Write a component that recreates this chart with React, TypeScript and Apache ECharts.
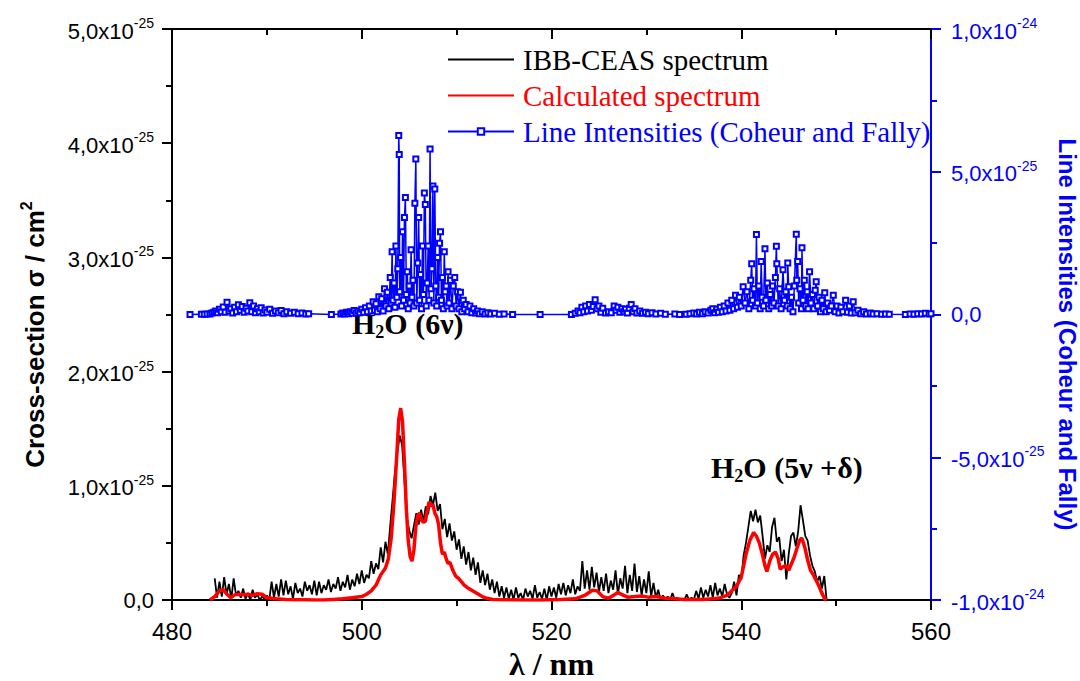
import React, { useEffect, useRef } from "react";
import * as echarts from "echarts";

// Units: left axis values in 1e-26 cm^2 (0..50 => 0..5.0x10^-25)
// Right axis values in 1e-25 (-10..10 => -1.0x10^-24..1.0x10^-24)

const seriesNames = ["IBB-CEAS spectrum", "Calculated spectrum", "Line Intensities (Coheur and Fally)"];
const xTickLabels = [480, 500, 520, 540, 560];
const leftTickLabels = ["0,0", "1,0x10|-25", "2,0x10|-25", "3,0x10|-25", "4,0x10|-25", "5,0x10|-25"];
const rightTickLabels = ["-1,0x10|-24", "-5,0x10|-25", "0,0", "5,0x10|-25", "1,0x10|-24"];

const ibbSpectrum: number[][] = [
  [484.5, 1.9], [484.75, 0.2], [485.0, 1.6], [485.25, 0.3], [485.5, 2.0], [485.75, 0.5], [486.0, 1.4], [486.25, 0.1],
  [486.5, 1.9], [486.75, 0.4], [487.0, 0.8], [487.25, 0.2], [487.5, 1.0], [487.75, 0.1], [488.0, 0.6], [488.25, 0.0],
  [488.5, 0.9], [488.75, 0.2], [489.0, 0.5], [489.25, 0.0], [489.5, 0.3], [489.75, 0.1], [490.0, 0.4], [490.25, 0.0],
  [490.5, 1.6], [490.75, 0.2], [491.0, 1.4], [491.25, 0.3], [491.5, 1.8], [491.75, 0.4], [492.0, 1.7], [492.25, 0.5],
  [492.5, 1.2], [492.75, 0.1], [493.0, 1.5], [493.25, 0.6], [493.5, 1.0], [493.75, 0.3], [494.0, 1.6], [494.25, 0.8],
  [494.5, 1.3], [494.75, 0.5], [495.0, 1.7], [495.25, 0.4], [495.5, 1.6], [495.75, 0.6], [496.0, 1.3], [496.25, 0.9],
  [496.5, 1.8], [496.75, 0.7], [497.0, 1.4], [497.25, 1.0], [497.5, 2.0], [497.75, 0.8], [498.0, 1.6], [498.25, 1.1],
  [498.5, 2.2], [498.75, 0.9], [499.0, 1.8], [499.25, 1.2], [499.5, 2.3], [499.75, 1.4], [500.0, 2.6], [500.25, 1.5],
  [500.5, 2.2], [500.75, 1.9], [501.0, 3.4], [501.25, 2.3], [501.5, 3.2], [501.75, 2.7], [502.0, 4.6], [502.25, 3.3],
  [502.5, 5.1], [502.75, 4.0], [503.0, 6.5], [503.25, 8.8], [503.5, 11.2], [503.75, 12.9], [504.0, 14.4], [504.25, 13.6],
  [504.5, 10.5], [504.75, 7.2], [505.0, 6.1], [505.25, 5.4], [505.5, 6.5], [505.75, 7.6], [506.0, 6.6], [506.25, 7.9],
  [506.5, 6.9], [506.75, 8.2], [507.0, 7.5], [507.25, 9.1], [507.5, 8.3], [507.75, 9.4], [508.0, 7.8], [508.25, 8.4],
  [508.5, 6.2], [508.75, 7.1], [509.0, 5.5], [509.25, 6.7], [509.5, 5.2], [509.75, 6.0], [510.0, 4.4], [510.25, 5.3],
  [510.5, 3.6], [510.75, 4.7], [511.0, 3.1], [511.25, 4.2], [511.5, 2.6], [511.75, 3.7], [512.0, 2.2], [512.25, 3.3],
  [512.5, 1.5], [512.75, 2.6], [513.0, 1.3], [513.25, 2.3], [513.5, 0.9], [513.75, 1.8], [514.0, 0.6], [514.25, 1.6],
  [514.5, 0.3], [514.75, 1.2], [515.0, 0.2], [515.25, 1.1], [515.5, 0.1], [515.75, 0.9], [516.0, 0.0], [516.25, 1.1],
  [516.5, 0.2], [516.75, 0.6], [517.0, 0.0], [517.25, 1.0], [517.5, 0.3], [517.75, 0.8], [518.0, 0.1], [518.25, 1.3],
  [518.5, 0.2], [518.75, 0.7], [519.0, 0.1], [519.25, 1.0], [519.5, 0.0], [519.75, 1.2], [520.0, 0.3], [520.25, 1.1],
  [520.5, 0.2], [520.75, 1.4], [521.0, 0.5], [521.25, 1.5], [521.5, 0.4], [521.75, 1.3], [522.0, 0.6], [522.25, 1.8],
  [522.5, 0.5], [522.75, 1.2], [523.0, 0.8], [523.25, 3.4], [523.5, 1.0], [523.75, 2.6], [524.0, 0.9], [524.25, 2.9],
  [524.5, 1.1], [524.75, 2.4], [525.0, 0.7], [525.25, 2.0], [525.5, 0.8], [525.75, 2.3], [526.0, 0.6], [526.25, 1.7],
  [526.5, 0.9], [526.75, 2.6], [527.0, 0.5], [527.25, 1.9], [527.5, 1.0], [527.75, 3.0], [528.0, 0.6], [528.25, 2.2],
  [528.5, 0.8], [528.75, 3.2], [529.0, 0.7], [529.25, 2.1], [529.5, 0.4], [529.75, 1.8], [530.0, 0.6], [530.25, 2.5],
  [530.5, 0.3], [530.75, 1.5], [531.0, 0.2], [531.25, 0.9], [531.5, 0.0], [531.75, 0.4], [532.0, 0.0], [532.25, 0.3],
  [532.5, 0.0], [532.75, 0.6], [533.0, 0.0], [533.25, 0.2], [533.5, 0.0], [533.75, 0.1], [534.0, 0.0], [534.25, 0.5],
  [534.5, 0.0], [534.75, 0.2], [535.0, 0.0], [535.25, 0.8], [535.5, 0.1], [535.75, 1.1], [536.0, 0.2], [536.25, 0.9],
  [536.5, 0.3], [536.75, 1.3], [537.0, 0.2], [537.25, 1.5], [537.5, 0.4], [537.75, 1.0], [538.0, 0.3], [538.25, 1.4],
  [538.5, 0.5], [538.75, 0.2], [539.0, 0.6], [539.25, 1.6], [539.5, 0.4], [539.75, 2.2], [540.0, 1.8], [540.25, 3.9],
  [540.5, 5.0], [540.75, 6.4], [541.0, 7.8], [541.25, 6.9], [541.5, 7.9], [541.75, 6.8], [542.0, 7.4], [542.25, 5.6],
  [542.5, 3.6], [542.75, 4.8], [543.0, 4.2], [543.25, 6.4], [543.5, 7.2], [543.75, 5.1], [544.0, 5.5], [544.25, 3.4],
  [544.5, 4.4], [544.75, 1.8], [545.0, 4.0], [545.25, 5.6], [545.5, 5.9], [545.75, 4.7], [546.0, 6.0], [546.25, 8.3],
  [546.5, 7.0], [546.75, 5.6], [547.0, 5.2], [547.25, 3.9], [547.5, 3.0], [547.75, 2.5], [548.0, 1.6], [548.25, 2.1],
  [548.5, 1.0], [548.75, 2.1], [549.0, 0.0],
];

const calculatedSpectrum: number[][] = [
  [484.0, 0], [484.5, 0.3], [485.0, 0.8], [485.4, 0.9], [485.8, 0.5], [486.2, 0.2], [486.6, 0.45], [487.0, 0.5],
  [487.5, 0.45], [488.0, 0.5], [488.5, 0.4], [489.0, 0.55], [489.5, 0.5], [490.0, 0.2], [491.0, 0.1], [492.0, 0.05],
  [493.0, 0.02], [494.0, 0.02], [495.0, 0.0], [496.0, 0.0], [497.0, 0.05], [498.0, 0.1], [499.0, 0.2], [500.0, 0.3],
  [500.5, 0.5], [501.0, 0.8], [501.5, 1.3], [502.0, 2.2], [502.5, 2.8], [502.8, 3.6], [503.1, 5.4], [503.4, 8.6],
  [503.7, 12.8], [503.9, 15.8], [504.1, 16.8], [504.3, 15.6], [504.5, 12.0], [504.7, 8.0], [504.9, 5.2], [505.1, 3.8],
  [505.3, 3.4], [505.5, 4.4], [505.7, 6.4], [505.9, 7.4], [506.1, 7.6], [506.3, 7.0], [506.5, 6.8], [506.7, 6.9],
  [506.9, 7.8], [507.1, 8.6], [507.3, 8.2], [507.5, 8.4], [507.7, 7.6], [507.9, 7.3], [508.1, 6.6], [508.3, 5.0],
  [508.5, 4.0], [508.7, 4.2], [508.9, 3.6], [509.1, 3.2], [509.3, 3.3], [509.6, 2.6], [509.9, 2.1], [510.2, 1.9],
  [510.5, 1.6], [510.8, 1.3], [511.1, 1.1], [511.5, 0.9], [511.9, 0.7], [512.3, 0.5], [512.7, 0.3], [513.2, 0.15],
  [513.8, 0.05], [515.0, 0.02], [517.0, 0.0], [519.0, 0.0], [521.0, 0.05], [522.5, 0.1], [523.5, 0.4], [524.3, 0.85],
  [524.8, 0.8], [525.4, 0.3], [526.0, 0.15], [526.5, 0.4], [527.0, 0.65], [527.5, 0.45], [528.0, 0.25], [528.8, 0.3],
  [529.5, 0.35], [530.2, 0.25], [531.0, 0.3], [532.0, 0.15], [533.0, 0.1], [534.0, 0.05], [535.0, 0.05], [536.0, 0.05],
  [537.0, 0.1], [537.8, 0.2], [538.5, 0.4], [539.0, 0.8], [539.5, 1.2], [540.0, 2.0], [540.5, 4.0], [540.9, 5.2],
  [541.3, 5.9], [541.6, 5.6], [541.9, 5.0], [542.2, 4.1], [542.5, 3.0], [542.7, 2.5], [543.0, 3.4], [543.3, 4.0],
  [543.6, 4.2], [543.9, 3.6], [544.1, 2.7], [544.4, 2.9], [544.7, 3.0], [545.0, 2.6], [545.3, 3.2], [545.6, 3.8],
  [545.9, 4.6], [546.2, 5.3], [546.4, 5.4], [546.7, 4.6], [547.0, 3.5], [547.3, 2.6], [547.6, 2.2], [547.9, 1.7],
  [548.2, 1.2], [548.5, 0.6], [548.8, 0.1], [549.0, 0.0],
];

const lineIntensities: number[][] = [
  [481.9, 0.0], [483.1, 0.01], [483.4, 0.01], [483.7, 0.02], [484.0, 0.02], [484.2, 0.05], [484.4, 0.08], [484.6, 0.12],
  [484.8, 0.06], [485.0, 0.18], [485.2, 0.1], [485.4, 0.26], [485.6, 0.08], [485.8, 0.43], [486.0, 0.12], [486.2, 0.2],
  [486.4, 0.05], [486.6, 0.25], [486.8, 0.1], [487.0, 0.34], [487.2, 0.15], [487.4, 0.28], [487.6, 0.08], [487.8, 0.22],
  [488.0, 0.12], [488.2, 0.41], [488.4, 0.1], [488.6, 0.3], [488.8, 0.06], [489.0, 0.2], [489.2, 0.1], [489.4, 0.24],
  [489.6, 0.05], [489.8, 0.16], [490.0, 0.08], [490.3, 0.18], [490.6, 0.04], [490.9, 0.12], [491.2, 0.06], [491.5, 0.14],
  [491.8, 0.03], [492.1, 0.1], [492.5, 0.04], [492.9, 0.08], [493.3, 0.03], [493.7, 0.05], [494.1, 0.02], [494.4, 0.03],
  [496.8, 0.0], [497.8, 0.02], [498.0, 0.05], [498.2, 0.02], [498.4, 0.08], [498.6, 0.03], [498.8, 0.1], [499.0, 0.04],
  [499.2, 0.14], [499.4, 0.05], [499.6, 0.12], [499.8, 0.06], [500.0, 0.18], [500.2, 0.08], [500.4, 0.24], [500.6, 0.1],
  [500.8, 0.3], [501.0, 0.12], [501.2, 0.45], [501.35, 0.15], [501.5, 0.38], [501.65, 0.1], [501.8, 0.62], [501.95, 0.2],
  [502.1, 0.55], [502.25, 0.12], [502.4, 0.9], [502.55, 0.3], [502.7, 0.78], [502.85, 0.2], [503.0, 1.3], [503.1, 0.4],
  [503.2, 2.2], [503.3, 0.5], [503.4, 1.1], [503.5, 0.25], [503.6, 2.4], [503.7, 0.6], [503.8, 1.6], [503.9, 6.27],
  [503.95, 5.6], [504.0, 0.8], [504.1, 2.0], [504.2, 0.3], [504.3, 2.9], [504.4, 0.5], [504.5, 3.4], [504.6, 4.1],
  [504.7, 0.7], [504.8, 1.5], [504.9, 0.2], [505.0, 1.0], [505.1, 0.4], [505.2, 2.27], [505.3, 0.6], [505.4, 1.2],
  [505.5, 0.3], [505.6, 3.9], [505.7, 5.45], [505.8, 0.4], [505.9, 1.8], [506.0, 3.4], [506.1, 0.5], [506.2, 1.4],
  [506.3, 0.2], [506.4, 2.4], [506.5, 0.7], [506.6, 4.26], [506.7, 3.85], [506.8, 0.3], [506.9, 1.1], [507.0, 2.4],
  [507.1, 0.5], [507.2, 5.8], [507.3, 0.9], [507.4, 1.6], [507.5, 4.5], [507.6, 0.4], [507.7, 4.4], [507.8, 1.0],
  [507.9, 0.3], [508.0, 2.0], [508.1, 0.6], [508.2, 2.5], [508.3, 2.9], [508.4, 0.5], [508.5, 1.3], [508.6, 0.2],
  [508.7, 2.2], [508.8, 0.8], [508.9, 1.0], [509.0, 0.3], [509.1, 1.5], [509.2, 0.4], [509.35, 1.2], [509.5, 0.2],
  [509.65, 1.0], [509.8, 1.3], [509.95, 0.3], [510.1, 0.8], [510.25, 0.2], [510.4, 0.78], [510.55, 0.1], [510.7, 0.5],
  [510.85, 0.2], [511.0, 0.35], [511.2, 0.1], [511.4, 0.3], [511.6, 0.06], [511.8, 0.2], [512.0, 0.05], [512.2, 0.12],
  [512.4, 0.03], [512.7, 0.1], [513.0, 0.02], [513.3, 0.06], [513.6, 0.02], [514.0, 0.04], [514.5, 0.01], [515.0, 0.02],
  [515.9, 0.0], [518.8, 0.0], [522.1, 0.0], [522.5, 0.04], [522.8, 0.12], [523.0, 0.06], [523.2, 0.25], [523.4, 0.1],
  [523.6, 0.3], [523.8, 0.12], [524.0, 0.35], [524.2, 0.15], [524.4, 0.28], [524.6, 0.52], [524.8, 0.2], [525.0, 0.3],
  [525.2, 0.08], [525.4, 0.22], [525.7, 0.05], [526.0, 0.1], [526.3, 0.06], [526.6, 0.3], [526.8, 0.15], [527.0, 0.25],
  [527.2, 0.08], [527.4, 0.2], [527.6, 0.1], [527.8, 0.18], [528.0, 0.05], [528.2, 0.22], [528.4, 0.35], [528.6, 0.1],
  [528.8, 0.2], [529.0, 0.05], [529.3, 0.12], [529.6, 0.04], [529.9, 0.08], [530.2, 0.03], [530.6, 0.06], [531.0, 0.02],
  [531.5, 0.04], [532.0, 0.01], [533.0, 0.02], [533.5, 0.0], [534.2, 0.01], [534.6, 0.03], [535.0, 0.05], [535.3, 0.02],
  [535.6, 0.08], [535.9, 0.03], [536.2, 0.1], [536.5, 0.05], [536.8, 0.15], [537.0, 0.2], [537.2, 0.06], [537.4, 0.18],
  [537.6, 0.08], [537.8, 0.25], [538.0, 0.1], [538.2, 0.3], [538.4, 0.12], [538.6, 0.4], [538.8, 0.15], [539.0, 0.5],
  [539.2, 0.2], [539.4, 0.67], [539.6, 0.25], [539.8, 0.6], [540.0, 0.3], [540.2, 0.97], [540.4, 0.4], [540.6, 0.8],
  [540.8, 0.2], [541.0, 1.2], [541.1, 1.78], [541.2, 0.5], [541.35, 0.9], [541.5, 0.3], [541.6, 2.8], [541.7, 0.4],
  [541.85, 1.0], [542.0, 0.2], [542.1, 1.86], [542.2, 0.6], [542.35, 0.3], [542.5, 2.3], [542.6, 0.5], [542.75, 1.1],
  [542.9, 0.2], [543.05, 0.7], [543.2, 0.3], [543.3, 1.0], [543.45, 0.4], [543.6, 1.3], [543.7, 2.39], [543.75, 1.78],
  [543.9, 0.3], [544.05, 0.9], [544.2, 0.2], [544.4, 1.57], [544.55, 0.5], [544.7, 0.8], [544.85, 0.3], [544.9, 1.8],
  [545.0, 0.97], [545.15, 0.2], [545.3, 0.6], [545.45, 0.1], [545.6, 1.0], [545.8, 2.81], [545.85, 1.2], [545.95, 1.86],
  [546.05, 0.4], [546.2, 0.9], [546.35, 0.2], [546.4, 2.34], [546.5, 0.5], [546.65, 1.2], [546.8, 0.3], [546.95, 0.8],
  [547.05, 0.2], [547.2, 1.5], [547.35, 0.4], [547.5, 0.7], [547.65, 0.2], [547.8, 0.85], [547.9, 1.15], [548.05, 0.3],
  [548.2, 0.6], [548.35, 0.1], [548.5, 0.5], [548.65, 0.2], [548.8, 0.76], [548.95, 0.1], [549.1, 0.4], [549.3, 0.15],
  [549.5, 0.3], [549.7, 0.67], [549.9, 0.1], [550.1, 0.3], [550.3, 0.05], [550.5, 0.25], [550.7, 0.1], [551.0, 0.5],
  [551.2, 0.08], [551.4, 0.3], [551.6, 0.05], [551.8, 0.45], [552.0, 0.06], [552.3, 0.15], [552.6, 0.03], [552.9, 0.1],
  [553.2, 0.02], [553.6, 0.05], [553.9, 0.02], [554.3, 0.03], [554.8, 0.01], [555.2, 0.02], [555.6, 0.01], [557.3, 0.0],
  [557.8, 0.02], [558.2, 0.01], [558.6, 0.03], [559.0, 0.02], [559.4, 0.04], [559.8, 0.02], [560.0, 0.03],
];

const SANS = "'Liberation Sans', Arial, sans-serif";
const SERIF = "'Liberation Serif', 'Times New Roman', serif";
const BLUE = "#0000ff";
const RED = "#ff0000";

function tickLabel(raw: string) {
  const parts = raw.split("|");
  if (parts.length === 1) return parts[0];
  return `{b|${parts[0]}}{s|${parts[1]}}`;
}

function labelRich(color: string) {
  return {
    b: { fontFamily: SANS, fontSize: 22, color, lineHeight: 26, verticalAlign: "bottom" },
    s: { fontFamily: SANS, fontSize: 14, color, lineHeight: 14, verticalAlign: "top" },
  };
}

export default function App() {
  const ref = useRef<HTMLDivElement>(null);

  useEffect(() => {
    if (!ref.current) return;
    const chart = echarts.init(ref.current, undefined, { renderer: "svg" });

    const annoRich = {
      a: { fontFamily: SERIF, fontSize: 30, fontWeight: "bold", fill: "#000", lineHeight: 30, verticalAlign: "top" },
      s: { fontFamily: SERIF, fontSize: 18, fontWeight: "bold", fill: "#000", lineHeight: 18, verticalAlign: "top", padding: [15, 0, 0, 0] },
    };

    const option: any = {
      animation: false,
      backgroundColor: "#ffffff",
      grid: { left: 172, right: 149, top: 29, bottom: 81, containLabel: false, outerBoundsMode: "none" },
      legend: {
        orient: "vertical",
        left: 442,
        top: 40,
        itemWidth: 66,
        itemHeight: 8,
        itemGap: 7,
        textStyle: { fontFamily: SERIF, fontSize: 29, lineHeight: 29, padding: [0, 0, 0, 4] },
        data: [
          { name: seriesNames[0], textStyle: { color: "#000" }, itemStyle: { opacity: 0 } },
          { name: seriesNames[1], textStyle: { color: RED }, itemStyle: { opacity: 0 } },
          { name: seriesNames[2], textStyle: { color: BLUE } },
        ],
      },
      xAxis: [
        {
          type: "value",
          position: "bottom",
          min: xTickLabels[0],
          max: xTickLabels[xTickLabels.length - 1],
          interval: 20,
          name: "λ / nm",
          nameLocation: "middle",
          nameGap: 46,
          nameTextStyle: { fontFamily: SERIF, fontSize: 32, fontWeight: "bold", color: "#000" },
          axisLine: { show: true, onZero: false, lineStyle: { color: "#000", width: 2 } },
          axisTick: { show: true, inside: false, length: 10, lineStyle: { color: "#000", width: 2 } },
          minorTick: { show: true, splitNumber: 2, length: 6, lineStyle: { color: "#000", width: 2 } },
          splitLine: { show: false },
          minorSplitLine: { show: false },
          axisLabel: { fontFamily: SANS, fontSize: 24, color: "#000", margin: 19 },
        },
        {
          type: "value",
          position: "top",
          min: xTickLabels[0],
          max: xTickLabels[xTickLabels.length - 1],
          interval: 20,
          axisLine: { show: true, onZero: false, lineStyle: { color: "#000", width: 2 } },
          axisTick: { show: true, inside: true, length: 10, lineStyle: { color: "#000", width: 2 } },
          minorTick: { show: true, splitNumber: 2, length: 6, lineStyle: { color: "#000", width: 2 } },
          splitLine: { show: false },
          axisLabel: { show: false },
        },
      ],
      yAxis: [
        {
          type: "value",
          position: "left",
          min: 0,
          max: 50,
          interval: 10,
          name: "{t|Cross-section σ / cm}{p|2}",
          nameLocation: "middle",
          nameRotate: 90,
          nameGap: 124,
          nameTextStyle: {
            padding: [0, 40, 0, 0],
            rich: {
              t: { fontFamily: SANS, fontSize: 26, fontWeight: "bold", color: "#000", lineHeight: 30, verticalAlign: "bottom" },
              p: { fontFamily: SANS, fontSize: 16, fontWeight: "bold", color: "#000", lineHeight: 16, verticalAlign: "top" },
            },
          },
          axisLine: { show: true, onZero: false, lineStyle: { color: "#000", width: 2 } },
          axisTick: { show: true, inside: false, length: 10, lineStyle: { color: "#000", width: 2 } },
          minorTick: { show: true, splitNumber: 2, length: 6, lineStyle: { color: "#000", width: 2 } },
          splitLine: { show: false },
          axisLabel: {
            fontFamily: SANS,
            fontSize: 22,
            color: "#000",
            margin: 18,
            formatter: (v: number) => tickLabel(leftTickLabels[Math.round(v / 10)] ?? ""),
            rich: labelRich("#000"),
          },
        },
        {
          type: "value",
          position: "right",
          min: -10,
          max: 10,
          interval: 5,
          name: "Line Intensities (Coheur and Fally)",
          nameLocation: "middle",
          nameRotate: -90,
          nameGap: 110,
          nameTextStyle: {
            fontFamily: SANS,
            fontSize: 24,
            fontWeight: "bold",
            color: BLUE,
            lineHeight: 24,
            padding: [0, 0, 0, 40],
          },
          axisLine: { show: true, onZero: false, lineStyle: { color: BLUE, width: 2 } },
          axisTick: { show: true, inside: false, length: 10, lineStyle: { color: BLUE, width: 2 } },
          minorTick: { show: true, splitNumber: 2, length: 6, lineStyle: { color: BLUE, width: 2 } },
          splitLine: { show: false },
          axisLabel: {
            fontFamily: SANS,
            fontSize: 22,
            color: BLUE,
            margin: 20,
            formatter: (v: number) => tickLabel(rightTickLabels[Math.round((v + 10) / 5)] ?? ""),
            rich: labelRich(BLUE),
          },
        },
      ],
      series: [
        {
          name: seriesNames[2],
          type: "line",
          xAxisIndex: 0,
          yAxisIndex: 1,
          data: lineIntensities,
          symbol: "emptyRect",
          symbolSize: 5,
          showAllSymbol: true,
          lineStyle: { color: BLUE, width: 1.5 },
          itemStyle: { color: BLUE, borderColor: BLUE, borderWidth: 1 },
          z: 2,
        },
        {
          name: seriesNames[0],
          type: "line",
          xAxisIndex: 0,
          yAxisIndex: 0,
          data: ibbSpectrum,
          showSymbol: false,
          symbol: "none",
          lineStyle: { color: "#000", width: 1.8 },
          itemStyle: { color: "#000" },
          z: 3,
        },
        {
          name: seriesNames[1],
          type: "line",
          xAxisIndex: 0,
          yAxisIndex: 0,
          data: calculatedSpectrum,
          showSymbol: false,
          symbol: "none",
          lineStyle: { color: RED, width: 3.5 },
          itemStyle: { color: RED },
          z: 4,
        },
      ],
      graphic: [
        {
          type: "text",
          left: 352,
          top: 308,
          style: { text: "{a|H}{s|2}{a|O (6ν)}", rich: annoRich },
        },
        {
          type: "text",
          left: 711,
          top: 452,
          style: { text: "{a|H}{s|2}{a|O (5ν +δ)}", rich: annoRich },
        },
      ],
    };

    chart.setOption(option);
    return () => chart.dispose();
  }, []);

  return (
    <div
      ref={ref}
      style={{ position: "fixed", left: 0, top: 0, width: 1080, height: 681, background: "#fff" }}
    />
  );
}
